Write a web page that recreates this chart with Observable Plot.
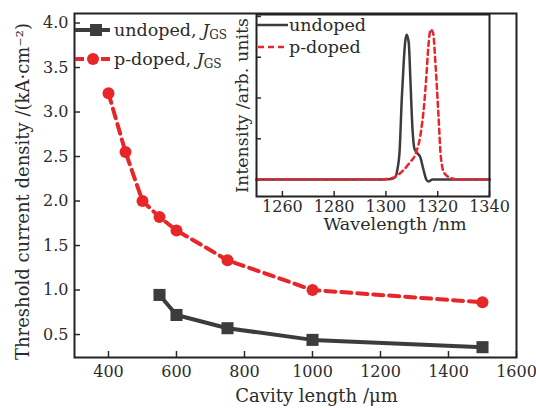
<!DOCTYPE html>
<html>
<head>
<meta charset="utf-8">
<script src="https://cdn.jsdelivr.net/npm/d3@7"></script>
<script src="https://cdn.jsdelivr.net/npm/@observablehq/plot@0.6"></script>
<style>
  html, body { margin: 0; padding: 0; background: #fff; }
  #wrap { position: relative; width: 536px; height: 408px; font-family: "DejaVu Serif", serif; color: #2b2b2b; }
  #wrap > svg { position: absolute; }
</style>
</head>
<body>
<div id="wrap"></div>
<script>
// ---- Main chart data ----
const cavityUndoped = [550, 600, 750, 1000, 1500];
const jthUndoped = [0.945, 0.72, 0.571, 0.44, 0.358];
const cavityPdoped = [400, 450, 500, 550, 600, 750, 1000, 1500];
const jthPdoped = [3.21, 2.55, 2.0, 1.82, 1.67, 1.335, 1.0, 0.862];
const xTicks = [400, 600, 800, 1000, 1200, 1400, 1600];
const yTicks = [0.5, 1.0, 1.5, 2.0, 2.5, 3.0, 3.5, 4.0];
const xLabel = "Cavity length /μm";
const yLabel = "Threshold current density /(kA·cm⁻²)";

// ---- Inset spectra data ----
const wlUndoped = [1250, 1296, 1302, 1303.6, 1304.4, 1305.3, 1306.1, 1306.9, 1307.4, 1308.0, 1308.8, 1309.5, 1310.2, 1311.0, 1312.2, 1313.2, 1314.5, 1315.6, 1316.4, 1318.0, 1340];
const intUndoped = [0, 0, 0.004, 0.015, 0.06, 0.18, 0.49, 0.73, 0.84, 0.888, 0.84, 0.59, 0.325, 0.19, 0.16, 0.14, 0.06, 0.0, -0.012, 0, 0];
const wlPdoped = [1250, 1296, 1300, 1302.5, 1306.3, 1309.0, 1311.5, 1313.4, 1314.7, 1315.6, 1316.4, 1317.3, 1318.2, 1319.2, 1320.3, 1321.2, 1322.5, 1325.0, 1328, 1340];
const intPdoped = [0, 0, 0.003, 0.01, 0.05, 0.1, 0.16, 0.28, 0.45, 0.63, 0.82, 0.92, 0.9, 0.69, 0.39, 0.14, 0.04, 0.01, 0, 0];
const wlTicks = [1260, 1280, 1300, 1320, 1340];
const intTicks = [0, 0.25, 0.5, 0.75, 1.0];
const insetXLabel = "Wavelength /nm";
const insetYLabel = "Intensity /arb. units";

const gray = "#3c3c3c";
const red = "#e8262a";
const ink = "#2b2b2b";
const font = "DejaVu Serif";

const undoped = cavityUndoped.map((x, i) => ({x, y: jthUndoped[i]}));
const pdoped = cavityPdoped.map((x, i) => ({x, y: jthPdoped[i]}));
const specU = wlUndoped.map((x, i) => ({x, y: intUndoped[i]}));
const specP = wlPdoped.map((x, i) => ({x, y: intPdoped[i]}));

const main = Plot.plot({
  width: 536, height: 408,
  marginLeft: 74, marginRight: 20, marginTop: 13, marginBottom: 51,
  style: {fontFamily: font, fontSize: "16px", color: ink, background: "transparent", overflow: "visible"},
  x: {domain: [300, 1600]},
  y: {domain: [0.242, 4.107]},
  marks: [
    Plot.axisX({ticks: xTicks, tickFormat: d3.format("d"), tickSize: -6, tickPadding: 14, label: null, strokeWidth: 1.5}),
    Plot.axisY({ticks: yTicks, tickFormat: d3.format(".1f"), tickSize: -6, tickPadding: 12, label: null, strokeWidth: 1.5}),
    Plot.text([xLabel], {text: d => d, frameAnchor: "bottom", textAnchor: "middle", lineAnchor: "middle", dx: 21, dy: 39, fontSize: 18, fill: ink}),
    Plot.text([yLabel], {text: d => d, frameAnchor: "left", textAnchor: "middle", lineAnchor: "middle", rotate: -90, dx: -51, dy: 6, fontSize: 18, fill: ink}),
    Plot.frame({stroke: "#222", strokeWidth: 2}),
    Plot.line(pdoped, {x: "x", y: "y", stroke: red, strokeWidth: 4, strokeDasharray: "10,6"}),
    Plot.dot(pdoped, {x: "x", y: "y", r: 6, fill: red, stroke: "none"}),
    Plot.line(undoped, {x: "x", y: "y", stroke: gray, strokeWidth: 4}),
    Plot.dot(undoped, {x: "x", y: "y", r: 6.8, symbol: "square", fill: gray, stroke: "none"})
  ]
});

const inset = Plot.plot({
  width: 300, height: 240,
  marginLeft: 36, marginRight: 31, marginTop: 14, marginBottom: 44,
  style: {fontFamily: font, fontSize: "16px", color: ink, background: "transparent", overflow: "visible"},
  x: {domain: [1250, 1340]},
  y: {domain: [-0.104, 1.012]},
  marks: [
    Plot.frame({fill: "white", stroke: "none"}),
    Plot.axisX({ticks: wlTicks, tickFormat: d3.format("d"), tickSize: -5, tickPadding: 9, label: null, strokeWidth: 1.5}),
    Plot.axisY({ticks: intTicks, tickSize: -5, tickFormat: () => "", label: null, strokeWidth: 1.5}),
    Plot.text([insetXLabel], {text: d => d, frameAnchor: "bottom", textAnchor: "middle", lineAnchor: "middle", dx: 22, dy: 28, fontSize: 17.5, fill: ink}),
    Plot.text([insetYLabel], {text: d => d, frameAnchor: "left", textAnchor: "middle", lineAnchor: "middle", rotate: -90, dx: -14, dy: 0, fontSize: 17.5, fill: ink}),
    Plot.line(specU, {x: "x", y: "y", stroke: gray, strokeWidth: 2.5, curve: "monotone-x"}),
    Plot.line(specP, {x: "x", y: "y", stroke: red, strokeWidth: 2.5, strokeDasharray: "5,4", curve: "monotone-x"}),
    Plot.frame({stroke: "#222", strokeWidth: 2})
  ]
});

const wrap = document.getElementById("wrap");
main.style.left = "0px"; main.style.top = "0px";
inset.style.left = "220px"; inset.style.top = "0px";
wrap.appendChild(main);
wrap.appendChild(inset);

// Legends as an SVG overlay
const ns = "http://www.w3.org/2000/svg";
const leg = document.createElementNS(ns, "svg");
leg.setAttribute("width", 536); leg.setAttribute("height", 408);
leg.style.left = "0px"; leg.style.top = "0px";
leg.setAttribute("font-family", font);
leg.innerHTML = `
  <line x1="75" y1="30" x2="110" y2="30" stroke="${gray}" stroke-width="4"/>
  <rect x="90" y="24" width="12" height="12" fill="${gray}"/>
  <text x="114" y="36" font-size="17.5" fill="${ink}">undoped, <tspan font-style="italic">J</tspan><tspan font-size="12" dy="3">GS</tspan></text>
  <line x1="75" y1="59" x2="84" y2="59" stroke="${red}" stroke-width="4"/>
  <line x1="101" y1="59" x2="110" y2="59" stroke="${red}" stroke-width="4"/>
  <circle cx="93" cy="59" r="6" fill="${red}"/>
  <text x="114" y="65" font-size="17.5" fill="${ink}">p-doped, <tspan font-style="italic">J</tspan><tspan font-size="12" dy="3">GS</tspan></text>
  <line x1="257" y1="25" x2="288" y2="25" stroke="${gray}" stroke-width="2.5"/>
  <text x="289" y="31" font-size="17.5" fill="${ink}">undoped</text>
  <line x1="258" y1="47" x2="288" y2="47" stroke="${red}" stroke-width="2.5" stroke-dasharray="6,4"/>
  <text x="289" y="53" font-size="17.5" fill="${ink}">p-doped</text>
`;
wrap.appendChild(leg);
</script>
</body>
</html>
